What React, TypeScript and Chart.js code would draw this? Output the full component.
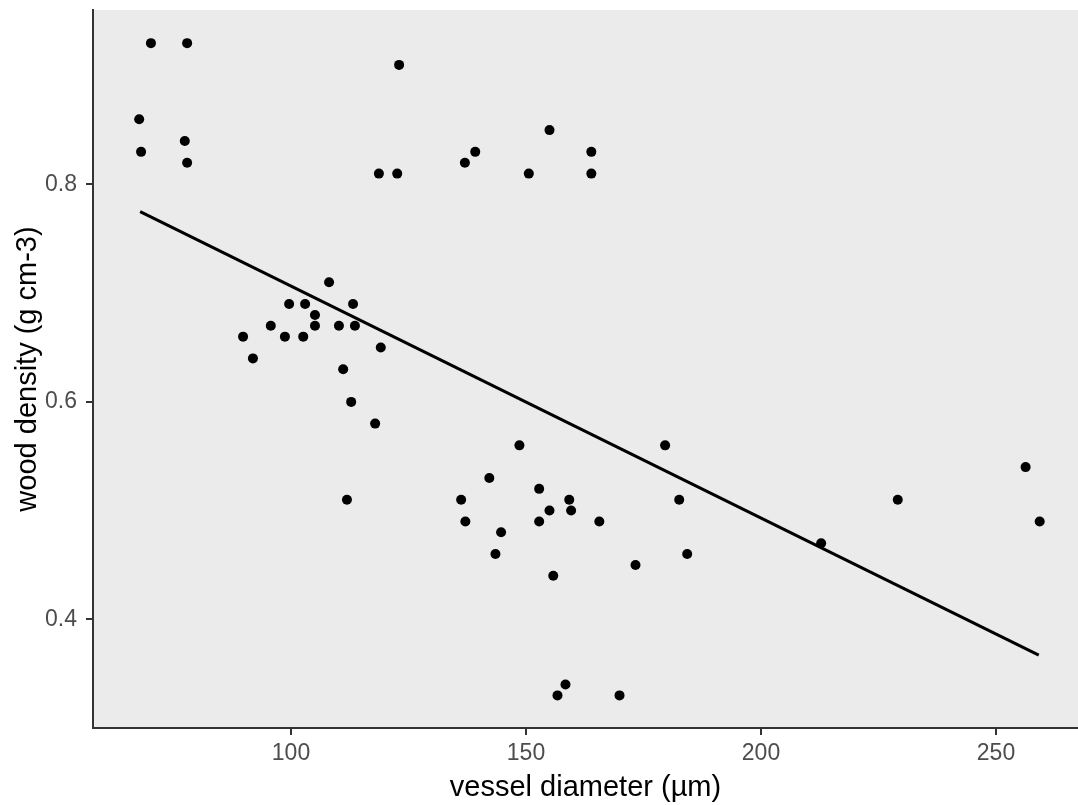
import React, { useEffect, useRef } from "react";
import { Chart, registerables } from "chart.js";

Chart.register(...registerables);

const vesselDiameter = [
  70.2, 77.9, 67.7, 68.1, 77.4, 77.9, 123.0, 118.7, 122.6, 137.0, 139.2, 155.0, 150.6, 163.9, 163.9,
  108.1, 99.6, 103.0, 113.2, 105.1, 105.1, 95.7, 110.2, 113.6, 89.8, 98.7, 102.6, 91.9, 119.1, 111.1,
  112.8, 117.9, 148.6, 179.6, 142.2, 152.8, 136.2, 159.2, 182.6, 155.0, 159.6, 137.1, 152.8, 165.6,
  144.7, 143.5, 184.3, 173.3, 155.8, 158.4, 156.7, 169.9, 212.8, 229.1, 256.3, 259.3, 111.9,
];
const woodDensity = [
  0.93, 0.93, 0.86, 0.83, 0.84, 0.82, 0.91, 0.81, 0.81, 0.82, 0.83, 0.85, 0.81, 0.83, 0.81,
  0.71, 0.69, 0.69, 0.69, 0.68, 0.67, 0.67, 0.67, 0.67, 0.66, 0.66, 0.66, 0.64, 0.65, 0.63,
  0.6, 0.58, 0.56, 0.56, 0.53, 0.52, 0.51, 0.51, 0.51, 0.5, 0.5, 0.49, 0.49, 0.49,
  0.48, 0.46, 0.46, 0.45, 0.44, 0.34, 0.33, 0.33, 0.47, 0.51, 0.54, 0.49, 0.51,
];
const fitX = [67.9, 259.1];
const fitY = [0.775, 0.367];
const xTicks = [100, 150, 200, 250];
const yTicks = [0.4, 0.6, 0.8];

const xTitle = "vessel diameter (µm)";
const yTitle = "wood density (g cm-3)";

const FONT = "'Liberation Sans', Arial, sans-serif";

const panelBg = {
  id: "panelBg",
  beforeDraw(chart: any) {
    const { ctx, chartArea } = chart;
    if (!chartArea) return;
    ctx.save();
    ctx.fillStyle = "#EBEBEB";
    ctx.fillRect(chartArea.left, chartArea.top, chartArea.right - chartArea.left, chartArea.bottom - chartArea.top);
    ctx.restore();
  },
};

export default function App() {
  const ref = useRef<HTMLCanvasElement | null>(null);

  useEffect(() => {
    if (!ref.current) return;
    const points = vesselDiameter.map((x, i) => ({ x, y: woodDensity[i] }));
    const fit = fitX.map((x, i) => ({ x, y: fitY[i] }));
    const chart = new Chart(ref.current, {
      type: "scatter",
      data: {
        datasets: [
          {
            label: "points",
            data: points,
            pointRadius: 5,
            pointHoverRadius: 5,
            pointBackgroundColor: "#000000",
            pointBorderColor: "#000000",
            pointBorderWidth: 0,
            showLine: false,
          },
          {
            label: "fit",
            data: fit,
            showLine: true,
            borderColor: "#000000",
            borderWidth: 3,
            pointRadius: 0,
            fill: false,
          } as any,
        ],
      },
      options: {
        animation: false,
        responsive: false,
        devicePixelRatio: 1,
        layout: { autoPadding: false, padding: { top: 10, right: 0, bottom: 0, left: 0 } },
        plugins: {
          legend: { display: false },
          tooltip: { enabled: false },
        },
        scales: {
          x: {
            type: "linear",
            min: 57.87,
            max: 267.45,
            afterBuildTicks: (scale: any) => {
              scale.ticks = xTicks.map((v) => ({ value: v }));
            },
            afterFit: (scale: any) => {
              scale.height = 77;
              scale.paddingLeft = 0;
              scale.paddingRight = 0;
              scale.paddingTop = 0;
              scale.paddingBottom = 0;
            },
            grid: {
              display: true,
              drawOnChartArea: false,
              drawTicks: true,
              tickLength: 7,
              color: "#333333",
              lineWidth: 2,
            },
            border: { display: true, color: "#333333", width: 2 },
            ticks: {
              color: "#4D4D4D",
              font: { family: FONT, size: 23 },
              padding: 5,
              maxRotation: 0,
              autoSkip: false,
              callback: (v: any) => String(v),
            },
            title: {
              display: true,
              text: xTitle,
              color: "#000000",
              font: { family: FONT, size: 29 },
              padding: { top: 0, bottom: 0 },
            },
          },
          y: {
            type: "linear",
            min: 0.3,
            max: 0.9605,
            afterBuildTicks: (scale: any) => {
              scale.ticks = yTicks.map((v) => ({ value: v }));
            },
            afterFit: (scale: any) => {
              scale.width = 93;
              scale.paddingLeft = 0;
              scale.paddingRight = 0;
              scale.paddingTop = 0;
              scale.paddingBottom = 0;
            },
            grid: {
              display: true,
              drawOnChartArea: false,
              drawTicks: true,
              tickLength: 7,
              color: "#333333",
              lineWidth: 2,
            },
            border: { display: true, color: "#333333", width: 2 },
            ticks: {
              color: "#4D4D4D",
              font: { family: FONT, size: 23 },
              padding: 9,
              autoSkip: false,
              callback: (v: any) => Number(v).toFixed(1),
            },
            title: {
              display: true,
              text: yTitle,
              color: "#000000",
              font: { family: FONT, size: 29 },
              padding: { top: 11, bottom: 0 },
            },
          },
        },
      },
      plugins: [panelBg],
    });
    return () => chart.destroy();
  }, []);

  return (
    <div style={{ position: "absolute", left: 0, top: 0, width: 1078, height: 805, background: "#ffffff" }}>
      <canvas ref={ref} width={1078} height={805} style={{ display: "block", width: 1078, height: 805 }} />
    </div>
  );
}
